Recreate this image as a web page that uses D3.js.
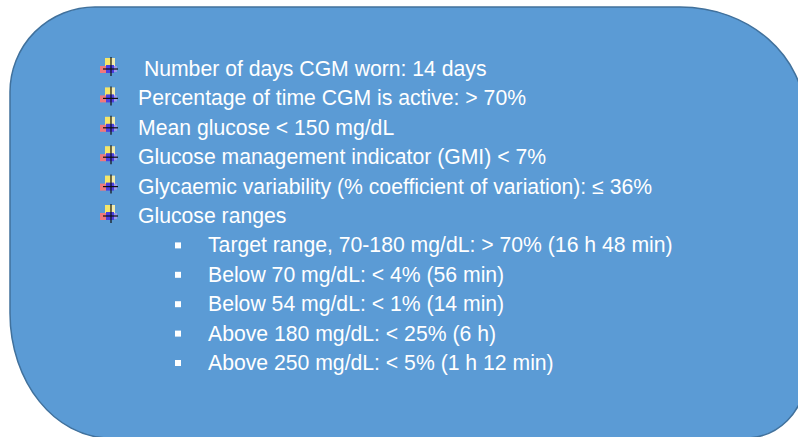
<!DOCTYPE html>
<html>
<head lang="en">
    <meta charset="UTF-8">
    <title>CGM targets</title>
    <script src="https://d3js.org/d3.v7.min.js"></script>
    <style>
        body { margin: 0; background: #fff; }
        text { font-family: "Liberation Sans", Arial, sans-serif; fill: #fff; white-space: pre; }
    </style>
</head>
<body>
<svg id="chart" width="798" height="437"></svg>
<script>
    // main list items (first one has a leading space in the source)
    const MAIN_ITEMS = [
        " Number of days CGM worn: 14 days",
        "Percentage of time CGM is active: > 70%",
        "Mean glucose < 150 mg/dL",
        "Glucose management indicator (GMI) < 7%",
        "Glycaemic variability (% coefficient of variation): \u2264 36%",
        "Glucose ranges"
    ];
    // sub items under "Glucose ranges"
    const SUB_ITEMS = [
        "Target range, 70-180 mg/dL: > 70% (16 h 48 min)",
        "Below 70 mg/dL: < 4% (56 min)",
        "Below 54 mg/dL: < 1% (14 min)",
        "Above 180 mg/dL: < 25% (6 h)",
        "Above 250 mg/dL: < 5% (1 h 12 min)"
    ];

    let svg = d3.select('#chart');

    // rounded box, each corner a bit different
    let L = 10, T = 7, R = 805, B = 438;
    let box = d3.path();
    box.moveTo(L + 85, T);
    box.lineTo(R - 125, T);
    box.bezierCurveTo(R - 125 + 69, T, R, T + 110 - 61, R, T + 110);
    box.lineTo(R, B - 60);
    box.arcTo(R, B, R - 60, B, 60);
    box.lineTo(L + 100, B);
    box.bezierCurveTo(L + 100 - 55, B, L, B - 125 + 69, L, B - 125);
    box.lineTo(L, T + 85);
    box.arcTo(L, T, L + 85, T, 85);
    box.closePath();

    svg.append('path')
        .attr('d', box.toString())
        .attr('fill', '#5b9bd5')
        .attr('stroke', '#41719c')
        .attr('stroke-width', 1.5);

    let lines = MAIN_ITEMS.map(t => ({text: t, level: 0}))
        .concat(SUB_ITEMS.map(t => ({text: t, level: 1})));

    let y = d3.scaleLinear().domain([0, lines.length - 1]).range([76, 370]);
    let x = d3.scaleOrdinal().domain([0, 1]).range([138, 208]);

    let rows = svg.append('g').selectAll('g.row').data(lines).enter().append('g')
        .attr('class', 'row')
        .attr('transform', (d, i) => `translate(0,${y(i)})`);

    rows.append('text')
        .attr('x', d => x(d.level))
        .attr('y', 0)
        .attr('font-size', 21.2)
        .text(d => d.text);

    // sub bullets: small white squares
    rows.filter(d => d.level === 1).append('rect')
        .attr('x', 175).attr('y', -10)
        .attr('width', 6).attr('height', 6)
        .attr('fill', '#fff');

    // main bullets: multicolor little cross icon
    let icon = rows.filter(d => d.level === 0).append('g');
    icon.append('rect').attr('x', 105).attr('y', -18).attr('width', 6).attr('height', 9).attr('fill', '#f5e66a');
    icon.append('rect').attr('x', 111).attr('y', -18).attr('width', 4).attr('height', 9).attr('fill', '#f3ecb0');
    icon.append('rect').attr('x', 100).attr('y', -10).attr('width', 6).attr('height', 7).attr('fill', '#f0787c');
    icon.append('rect').attr('x', 106).attr('y', -11).attr('width', 8).attr('height', 8).attr('fill', '#4a3fe0');
    icon.append('rect').attr('x', 114).attr('y', -10).attr('width', 3).attr('height', 6).attr('fill', '#9a98ec');
    icon.append('line').attr('x1', 111).attr('x2', 111).attr('y1', -19).attr('y2', 0)
        .attr('stroke', '#111').attr('stroke-width', 1.2);
    icon.append('line').attr('x1', 103).attr('x2', 118).attr('y1', -7).attr('y2', -7)
        .attr('stroke', '#111').attr('stroke-width', 1.2);
</script>
</body>
</html>
